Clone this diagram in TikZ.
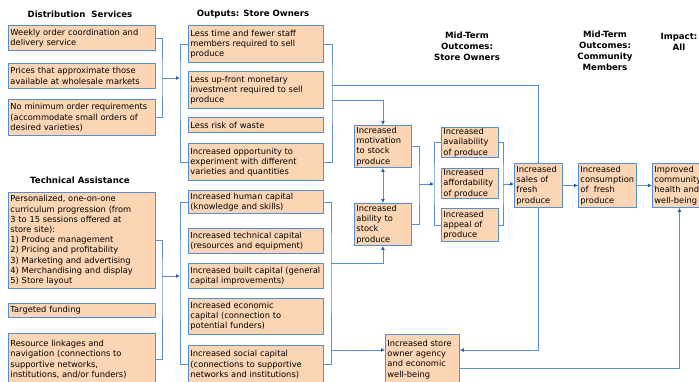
\documentclass[tikz,border=0pt]{standalone}
\usepackage{fontspec}
\setmainfont{DejaVu Sans}
\usepackage{xcolor}
\definecolor{lmblue}{RGB}{88,142,208}
\definecolor{lmdark}{RGB}{30,96,176}
\definecolor{lmpeach}{RGB}{252,213,180}
\usepackage{tikz}
\usetikzlibrary{arrows.meta, positioning, backgrounds}

\tikzset{
  box/.style={draw=lmblue, fill=lmpeach, line width=0.9pt, anchor=north west, align=left,
    inner xsep=2pt, inner ysep=1pt, font=\fontsize{8.3}{10.2}\selectfont},
  dbox/.style={box, text width=143pt, minimum width=147pt},
  obox/.style={box, text width=131pt, minimum width=135pt},
  mbox/.style={box, text width=53pt, minimum width=57pt},
  head/.style={align=center, font=\bfseries\fontsize{8.6}{11}\selectfont},
  ln/.style={draw=lmblue, line width=0.9pt},
  arr/.style={ln, -{Latex[length=4pt,width=4pt,color=lmdark]}},
  arrtwo/.style={ln, {Latex[length=4pt,width=4pt,color=lmdark]}-{Latex[length=4pt,width=4pt,color=lmdark]}}
}

\begin{document}
\begin{tikzpicture}[x=1pt, y=-1pt]
  \clip (0,0) rectangle (699,381);

  % headings
  \node[head] (hdist) at (80,14) {Distribution\ \ Services};
  \node[head] (htech) at (80,180) {Technical Assistance};
  \node[head] (hout) at (253,14) {Outputs: Store Owners};
  \node[head] (hmid) at (467,46) {Mid-Term\\Outcomes:\\Store Owners};
  \node[head] (hcom) at (605,51) {Mid-Term\\Outcomes:\\Community\\Members};
  \node[head] (himp) at (679,42) {Impact:\\All};

  % distribution services
  \node[dbox, minimum height=25pt] (a1) at (8,25) {Weekly order coordination and\\delivery service};
  \node[dbox, minimum height=25pt] (a2) at (8,63) {Prices that approximate those\\available at wholesale markets};
  \node[dbox, minimum height=36pt] (a3) at (8,99) {No minimum order requirements\\(accommodate small orders of\\desired varieties)};

  % technical assistance
  \node[dbox, minimum height=96pt] (t1) at (8,192) {Personalized, one-on-one\\curriculum progression (from\\3 to 15 sessions offered at\\store site):\\1) Produce management\\2) Pricing and profitability\\3) Marketing and advertising\\4) Merchandising and display\\5) Store layout};
  \node[dbox, minimum height=14pt] (t2) at (8,303) {Targeted funding};
  \node[dbox, minimum height=52pt] (t3) at (8,333) {Resource linkages and\\navigation (connections to\\supportive networks,\\institutions, and/or funders)};

  % outputs
  \node[obox, minimum height=37pt] (o1) at (188,25) {Less time and fewer staff\\members required to sell\\produce};
  \node[obox, minimum height=37pt] (o2) at (188,71) {Less up-front monetary\\investment required to sell\\produce};
  \node[obox, minimum height=15pt] (o3) at (188,117) {Less risk of waste};
  \node[obox, minimum height=37pt] (o4) at (188,143) {Increased opportunity to\\experiment with different\\varieties and quantities};
  \node[obox, minimum height=23pt] (c1) at (188,190) {Increased human capital\\(knowledge and skills)};
  \node[obox, minimum height=25pt] (c2) at (188,228) {Increased technical capital\\(resources and equipment)};
  \node[obox, minimum height=25pt] (c3) at (188,263) {Increased built capital (general\\capital improvements)};
  \node[obox, minimum height=36pt] (c4) at (188,298) {Increased economic\\capital (connection to\\potential funders)};
  \node[obox, minimum height=38pt] (c5) at (188,345) {Increased social capital\\(connections to supportive\\networks and institutions)};

  % mid-term outcomes
  \node[mbox, minimum height=42pt] (m1) at (354,125) {Increased\\motivation\\to stock\\produce};
  \node[mbox, minimum height=42pt] (m2) at (354,203) {Increased\\ability to\\stock\\produce};
  \node[mbox, minimum height=30pt] (p1) at (441,127) {Increased\\availability\\of produce};
  \node[mbox, minimum height=30pt] (p2) at (441,168) {Increased\\affordability\\of produce};
  \node[mbox, minimum height=33pt] (p3) at (441,208) {Increased\\appeal of\\produce};
  \node[box, text width=44pt, minimum width=48pt, minimum height=44pt] (s) at (514,163) {Increased\\sales of\\fresh\\produce};
  \node[box, text width=54pt, minimum width=58pt, minimum height=44pt] (k) at (578,163) {Increased\\consumption\\of\ \ fresh\\produce};
  \node[box, text width=50pt, minimum width=54pt, minimum height=44pt] (i) at (652,163) {Improved\\community\\health and\\well-being};
  \node[box, text width=70pt, minimum width=74pt, minimum height=50pt] (g) at (385,334) {Increased store\\owner agency\\and economic\\well-being};

  % bracket points
  \coordinate (dj) at (162,78);
  \coordinate (obl) at (180,78);
  \coordinate (tj) at (162,276);
  \coordinate (cbl) at (180,276);
  \coordinate (orA) at (332,85);
  \coordinate (orB) at (332,100);
  \coordinate (crA) at (331,263);
  \coordinate (crB) at (331,350);
  \coordinate (sdown) at (538,350);
  \coordinate (gout) at (459,368);
  \coordinate (mj) at (419,184);
  \coordinate (pj) at (434,184);
  \coordinate (qj) at (503,184);

  % connectors
  \draw[ln] (a1.east) -| (dj) |- (a3.east);
  \draw[arr] (dj) -- (obl);
  \draw[ln] (o1.west) -| (obl) |- (o4.west);
  \draw[ln] (t1.east) -| (tj) |- (t3.east);
  \draw[arr] (tj) -- (cbl);
  \draw[ln] (c1.west) -| (cbl) |- (c5.west);

  \draw[ln] (o1.east) -| (orA) |- (o4.east);
  \draw[arr] (orB) -| (m1.north);
  \begin{pgfonlayer}{background}
    \draw[arr] (orA) -| (sdown) -- (sdown -| g.east);
  \end{pgfonlayer}
  \draw[ln] (c1.east) -| (crA) |- (c5.east);
  \draw[arr] (crA) -| (m2.south);
  \draw[arr] (crB) -- (crB -| g.west);

  \draw[arrtwo] (m1.south) -- (m2.north);
  \draw[ln] (m1.east) -| (mj) |- (m2.east);
  \draw[arr] (mj) -- (pj);
  \draw[ln] (p1.west) -| (pj) |- (p3.west);
  \draw[ln] (p1.east) -| (qj) |- (p3.east);
  \draw[arr] (qj) -- (qj -| s.west);
  \draw[arr] (s) -- (k);
  \draw[arr] (k) -- (i);
  \draw[arr] (gout) -| (i.south);
\end{tikzpicture}
\end{document}
